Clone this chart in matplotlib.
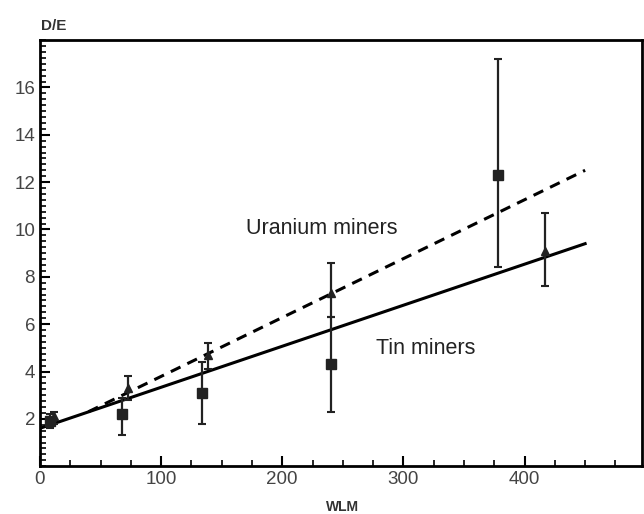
import matplotlib
matplotlib.use("Agg")
import matplotlib.pyplot as plt
from matplotlib.ticker import MultipleLocator

# tin-type points (squares)
sq_x = [8, 68, 134, 240, 378]
sq_y = [1.9, 2.2, 3.1, 4.3, 12.3]
sq_lo = [1.6, 1.3, 1.8, 2.3, 8.4]
sq_hi = [2.2, 2.9, 4.4, 6.3, 17.2]

# uranium-type points (triangles)
tri_x = [12, 73, 139, 240, 417]
tri_y = [2.1, 3.3, 4.7, 7.3, 9.1]
tri_lo = [1.8, 2.8, 4.1, 6.3, 7.6]
tri_hi = [2.3, 3.8, 5.2, 8.6, 10.7]

# fitted lines
tin_x = [0, 450]
tin_y = [1.6, 9.4]
ura_x = [40, 450]
ura_y = [2.3, 12.5]

plt.rcParams["font.family"] = ["Liberation Sans", "DejaVu Sans"]

fig = plt.figure(figsize=(6.44, 5.14), dpi=100)
ax = fig.add_axes([0.062, 0.093, 0.935, 0.829])

ax.plot(tin_x, tin_y, color="black", lw=2.2)
ax.plot(ura_x, ura_y, color="black", lw=2.2, ls=(0, (3.5, 2.5)))

sq_err = [[y - lo for y, lo in zip(sq_y, sq_lo)], [hi - y for y, hi in zip(sq_y, sq_hi)]]
tri_err = [[y - lo for y, lo in zip(tri_y, tri_lo)], [hi - y for y, hi in zip(tri_y, tri_hi)]]
ax.errorbar(sq_x, sq_y, yerr=sq_err, fmt="s", color="#222222", ms=7,
            elinewidth=1.6, capsize=3, capthick=1.5)
ax.errorbar(tri_x, tri_y, yerr=tri_err, fmt="^", color="#222222", ms=6,
            elinewidth=1.6, capsize=3, capthick=1.5)

ax.text(233, 10.05, "Uranium miners", fontsize=15.5, ha="center", va="center", color="#222222")
ax.text(318, 4.98, "Tin miners", fontsize=15.5, ha="center", va="center", color="#222222")

ax.set_xlim(0, 497)
ax.set_ylim(0, 18)
ax.set_xticks([0, 100, 200, 300, 400])
ax.set_yticks([2, 4, 6, 8, 10, 12, 14, 16])
ax.xaxis.set_minor_locator(MultipleLocator(25))
ax.yaxis.set_minor_locator(MultipleLocator(0.25))
ax.tick_params(direction="in", which="major", length=7, width=1.5, labelsize=13.5,
               labelcolor="#444444", top=False, right=False)
ax.tick_params(direction="in", which="minor", length=4, width=1.2, top=False, right=False)
for s in ax.spines.values():
    s.set_linewidth(2)

fig.text(0.064, 0.95, "D/E", fontsize=11, fontweight="bold", color="#333333", ha="left", va="center")
fig.text(0.532, 0.014, "WLM", fontsize=10, fontweight="bold", color="#333333", ha="center", va="center")

fig.savefig("out.png", dpi=100)
